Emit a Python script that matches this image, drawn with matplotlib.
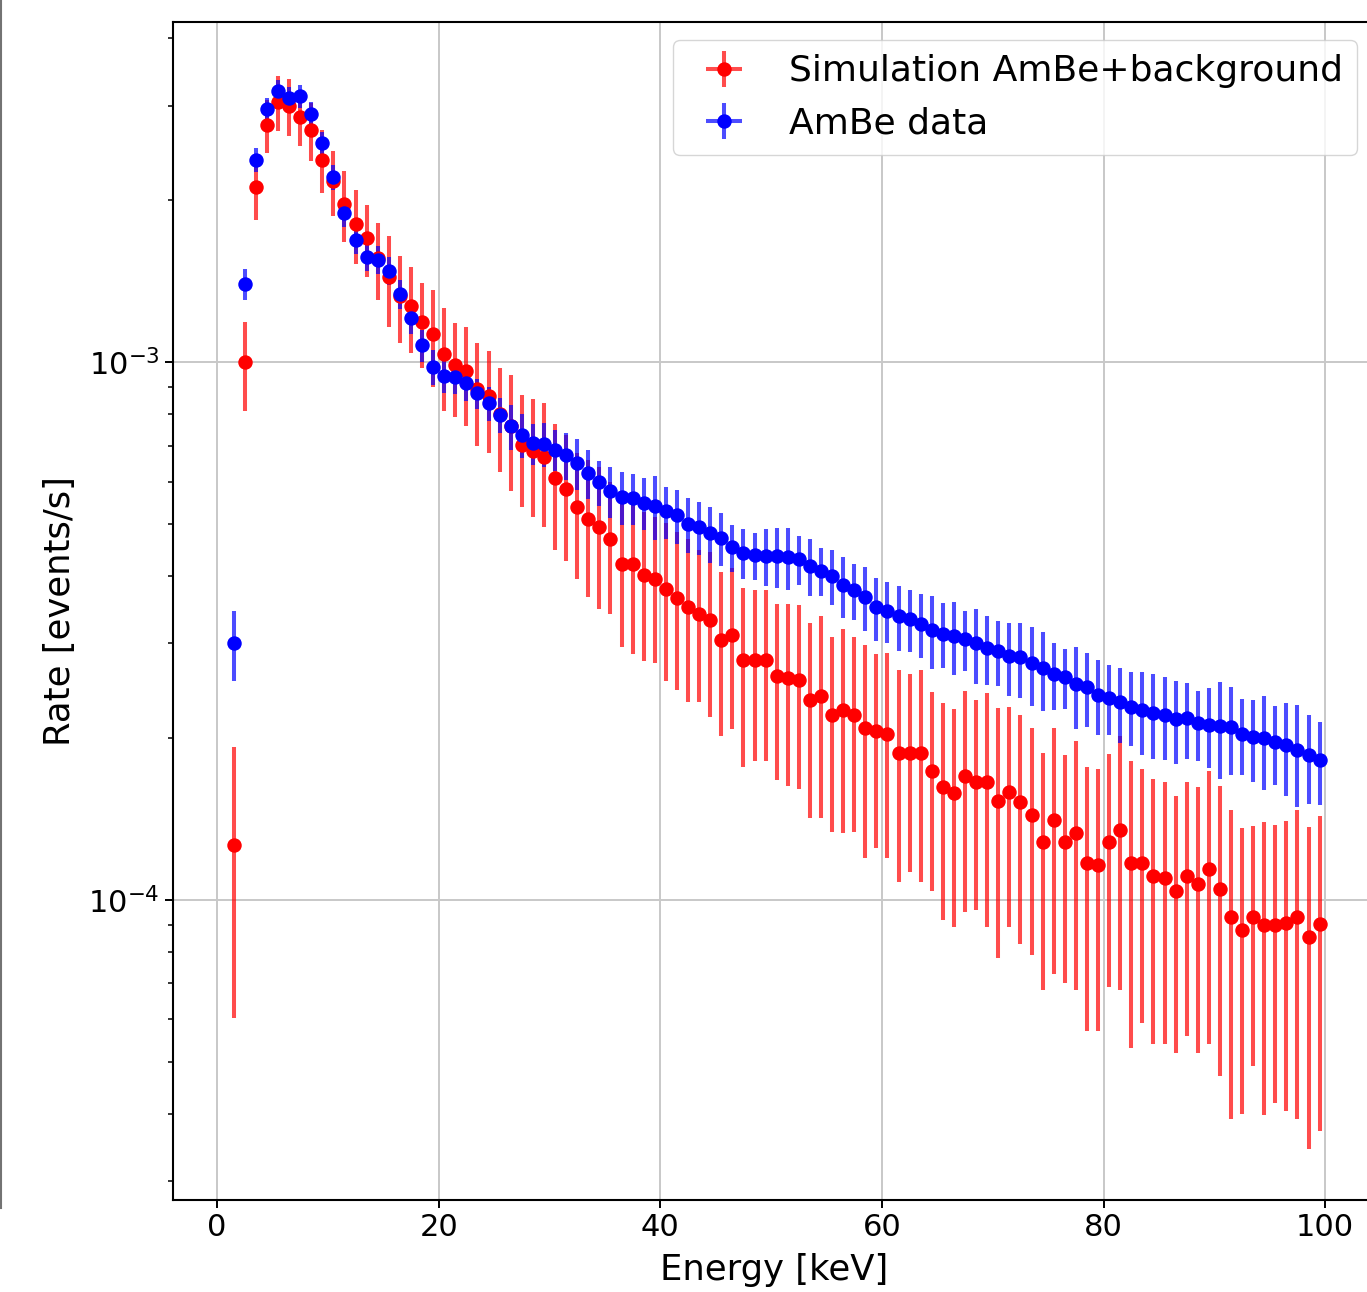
import numpy as np
import matplotlib.pyplot as plt
from matplotlib.lines import Line2D

# rates are read in units of 1e-4 events/s, one bin per keV
sim_rate = np.array([
    1.265, 10.0, 21.2, 27.6, 30.5, 30.0, 28.6, 27.0, 23.8, 21.7,
    19.7, 18.05, 17.0, 15.6, 14.4, 13.3, 12.7, 11.9, 11.3, 10.35,
    9.87, 9.62, 8.92, 8.64, 8.0, 7.62, 7.03, 6.85, 6.66, 6.08,
    5.80, 5.37, 5.12, 4.93, 4.70, 4.22, 4.22, 4.02, 3.96, 3.79,
    3.65, 3.51, 3.40, 3.31, 3.05, 3.11, 2.79, 2.79, 2.79, 2.61,
    2.59, 2.57, 2.35, 2.40, 2.21, 2.26, 2.21, 2.09, 2.06, 2.04,
    1.88, 1.88, 1.88, 1.74, 1.62, 1.58, 1.70, 1.66, 1.66, 1.53,
    1.59, 1.52, 1.44, 1.28, 1.41, 1.28, 1.33, 1.17, 1.16, 1.28,
    1.35, 1.17, 1.17, 1.11, 1.10, 1.04, 1.11, 1.07, 1.14, 1.05,
    0.931, 0.880, 0.931, 0.899, 0.899, 0.905, 0.931, 0.855, 0.902]) * 1e-4

sim_err = np.array([
    0.66, 1.9, 2.8, 3.1, 3.55, 3.65, 3.4, 3.3, 3.2, 3.0,
    3.0, 2.85, 2.6, 2.55, 2.75, 2.45, 2.3, 2.15, 2.3, 2.25,
    1.95, 2.0, 1.93, 1.85, 1.75, 1.85, 1.65, 1.7, 1.72, 1.6,
    1.53, 1.42, 1.46, 1.46, 1.29, 1.27, 1.35, 1.24, 1.2, 1.23,
    1.19, 1.18, 1.07, 1.12, 1.03, 1.03, 1.02, 0.98, 0.98, 0.94,
    0.96, 0.96, 0.93, 0.98, 0.87, 0.93, 0.87, 0.89, 0.81, 0.84,
    0.8, 0.75, 0.8, 0.7, 0.7, 0.69, 0.75, 0.7, 0.77, 0.75,
    0.7, 0.69, 0.65, 0.6, 0.68, 0.58, 0.65, 0.6, 0.59, 0.59,
    0.67, 0.64, 0.58, 0.57, 0.56, 0.52, 0.55, 0.55, 0.6, 0.58,
    0.54, 0.48, 0.44, 0.5, 0.48, 0.5, 0.54, 0.51, 0.53]) * 1e-4

data_rate = np.array([
    3.00, 13.96, 23.8, 29.5, 31.9, 30.95, 31.2, 28.9, 25.5, 22.1,
    18.9, 16.9, 15.7, 15.5, 14.8, 13.4, 12.1, 10.75, 9.79, 9.42,
    9.38, 9.14, 8.76, 8.39, 7.97, 7.60, 7.32, 7.07, 7.04, 6.88,
    6.72, 6.49, 6.22, 5.98, 5.76, 5.61, 5.59, 5.48, 5.41, 5.28,
    5.19, 5.00, 4.94, 4.81, 4.71, 4.53, 4.42, 4.38, 4.36, 4.36,
    4.34, 4.30, 4.18, 4.09, 4.00, 3.85, 3.77, 3.66, 3.50, 3.45,
    3.37, 3.33, 3.26, 3.18, 3.13, 3.10, 3.06, 3.00, 2.94, 2.90,
    2.84, 2.83, 2.76, 2.70, 2.63, 2.60, 2.52, 2.49, 2.41, 2.38,
    2.33, 2.29, 2.26, 2.23, 2.21, 2.17, 2.18, 2.13, 2.12, 2.11,
    2.10, 2.04, 2.01, 2.00, 1.97, 1.94, 1.90, 1.86, 1.82]) * 1e-4

data_err = np.array([
    0.44, 0.92, 1.2, 1.48, 1.55, 1.5, 1.51, 1.55, 1.28, 1.18,
    1.05, 1.0, 0.95, 0.92, 0.88, 0.83, 0.81, 0.75, 0.73, 0.66,
    0.66, 0.67, 0.56, 0.62, 0.6, 0.73, 0.68, 0.62, 0.66, 0.6,
    0.68, 0.7, 0.66, 0.57, 0.62, 0.63, 0.6, 0.6, 0.73, 0.59,
    0.59, 0.59, 0.56, 0.57, 0.53, 0.45, 0.47, 0.44, 0.53, 0.55,
    0.57, 0.45, 0.51, 0.42, 0.47, 0.5, 0.45, 0.5, 0.47, 0.45,
    0.47, 0.44, 0.44, 0.49, 0.43, 0.48, 0.39, 0.48, 0.43, 0.4,
    0.44, 0.45, 0.46, 0.45, 0.37, 0.33, 0.44, 0.39, 0.38, 0.35,
    0.37, 0.36, 0.4, 0.4, 0.39, 0.38, 0.35, 0.32, 0.36, 0.43,
    0.39, 0.33, 0.35, 0.4, 0.33, 0.38, 0.41, 0.35, 0.32]) * 1e-4

# bin centres, 1 keV bins
energy = np.arange(len(sim_rate)) + 1.5
bin_half = 0.5

fig = plt.figure(figsize=(13.67, 12.92), dpi=100)
ax = fig.add_axes([0.1266, 0.0712, 0.8793, 0.9118])

ax.errorbar(energy, sim_rate, yerr=sim_err, xerr=bin_half, fmt='o',
            color='red', ecolor=(1, 0, 0, 0.7), markersize=9.4,
            elinewidth=2.9, label='Simulation AmBe+background')
ax.errorbar(energy, data_rate, yerr=data_err, xerr=bin_half, fmt='o',
            color='blue', ecolor=(0, 0, 1, 0.7), markersize=9.4,
            elinewidth=2.9, label='AmBe data')

ax.set_yscale('log')
ax.set_xlim(-3.97, 104.5)
ax.set_ylim(2.77e-5, 4.29e-3)
ax.set_xticks([0, 20, 40, 60, 80, 100])
ax.grid(True, which='major', color='#c8c8c8', linewidth=1.4)
ax.set_axisbelow(True)

ax.tick_params(axis='both', which='major', labelsize=22, length=6, width=1.4)
ax.tick_params(axis='both', which='minor', length=3.5, width=1.1)
for sp in ax.spines.values():
    sp.set_linewidth(1.5)

ax.set_xlabel('Energy [keV]', fontsize=25.5, labelpad=8)
ax.set_ylabel('Rate [events/s]', fontsize=25.5, labelpad=8)
ax.legend(loc='upper right', fontsize=26)

# thin frame line left over at the left edge of the crop
fig.add_artist(Line2D([0.0008, 0.0008], [1 - 1208 / 1292, 1.0],
                      color='0.45', linewidth=1.5))

fig.savefig('out.png', dpi=100)
plt.close(fig)
